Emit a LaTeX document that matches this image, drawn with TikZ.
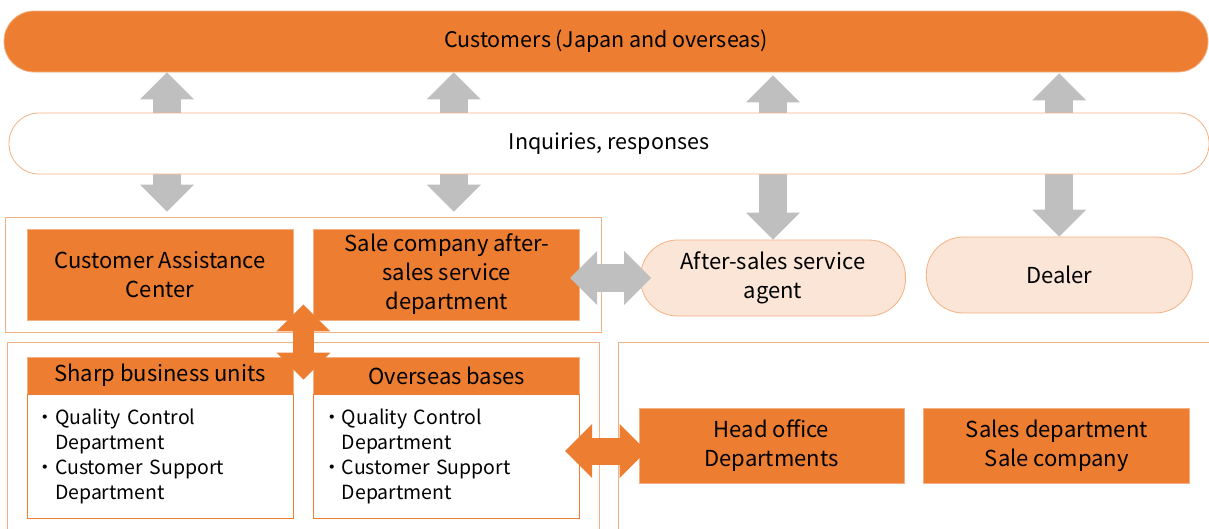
\documentclass[tikz,border=0pt]{standalone}
\usepackage{fontspec}
\setmainfont{Noto Sans CJK JP}
\usepackage{tikz}
\usetikzlibrary{arrows.meta, positioning, fit, backgrounds, calc}
\definecolor{sharporange}{HTML}{ED7D31}
\definecolor{lineorange}{HTML}{F4B183}
\definecolor{peach}{HTML}{FBE5D6}
\definecolor{arrowgray}{HTML}{BFBFBF}
\tikzset{
  pillorange/.style={
    rectangle, rounded corners=30pt,
    fill=sharporange, draw=lineorange, line width=0.8pt,
    minimum width=1204pt, minimum height=61pt, inner sep=0pt,
    font=\fontsize{21.5}{25}\selectfont
  },
  pillwhite/.style={
    rectangle, rounded corners=30pt,
    fill=white, draw=lineorange, line width=0.8pt,
    minimum width=1200pt, minimum height=61pt, inner sep=0pt,
    font=\fontsize{21.5}{25}\selectfont
  },
  pillpeach/.style={
    rectangle, rounded corners=37pt,
    fill=peach, draw=lineorange, line width=0.8pt,
    minimum width=265pt, minimum height=76pt, inner sep=0pt,
    align=center, font=\fontsize{22}{29}\selectfont
  },
  boxorange/.style={
    rectangle, fill=sharporange, draw=lineorange, line width=0.8pt,
    minimum width=266pt, minimum height=91pt, inner sep=0pt,
    align=center, font=\fontsize{22}{29}\selectfont
  },
  boxhead/.style={
    boxorange, minimum height=37pt
  },
  boxlist/.style={
    rectangle, fill=white, draw=sharporange, line width=0.8pt,
    minimum width=266pt, minimum height=124pt,
    inner xsep=8.5pt, inner ysep=0pt, text width=249pt,
    align=left, font=\fontsize{19.5}{25}\selectfont
  },
  boxgroup/.style={
    rectangle, draw=lineorange, line width=0.8pt
  },
  arrowgray/.style={
    draw=arrowgray, line width=28pt,
    {Triangle[length=27pt,width=54pt,line width=0pt]}-{Triangle[length=27pt,width=54pt,line width=0pt]}
  },
  arroworange/.style={
    draw=sharporange, line width=27pt,
    {Triangle[length=27pt,width=54pt,line width=0pt]}-{Triangle[length=27pt,width=54pt,line width=0pt]}
  }
}
\newcommand{\dotitem}{・}

\begin{document}
\begin{tikzpicture}[x=1pt, y=-1pt, node distance=20pt]

  \useasboundingbox (0,0) rectangle (1209,528);
  \clip (0,0) rectangle (1209,528);

  % --- Top row ---
  \node[pillorange] (cust) at (606,41.5) {Customers (Japan and overseas)};

  % --- Contact points ---
  \node[boxorange] (cac) at (160,274.5) {Customer Assistance\\Center};
  \node[boxorange, right=of cac] (scd) {Sale company after-\\sales service\\department};
  \node[pillpeach] (agent) at (773,278) {After-sales service\\agent};
  \node[pillpeach, right=of agent, yshift=3pt, minimum width=266pt] (dealer) {Dealer};

  % --- Business units ---
  \node[boxhead] (sbuhead) at (160,375.5) {Sharp business units};
  \node[boxlist, below=0pt of sbuhead] (sbubody) {\dotitem Quality Control\\\phantom{\dotitem}Department\\\dotitem Customer Support\\\phantom{\dotitem}Department};
  \node[boxhead, right=of sbuhead] (obhead) {Overseas bases};
  \node[boxlist, below=0pt of obhead] (obbody) {\dotitem Quality Control\\\phantom{\dotitem}Department\\\dotitem Customer Support\\\phantom{\dotitem}Department};

  \node[boxorange, minimum width=265pt, minimum height=75pt] (ho) at (771.5,445.5) {Head office\\Departments};
  \node[boxorange, minimum height=75pt, right=19pt of ho] (sales) {Sales department\\Sale company};

  % --- Groups ---
  \node[boxgroup, fit=(cac) (scd), inner xsep=21.5pt, inner ysep=11.5pt] (grpA) {};
  \node[boxgroup, fit=(sbuhead) (obbody), inner xsep=19pt, inner ysep=14pt] (grpB) {};
  \node[boxgroup, fit=(ho) (sales), inner xsep=21pt, inner ysep=65pt, xshift=1pt] (grpC) {};

  % --- Arrows to customers (behind the inquiries band) ---
  \begin{scope}[on background layer]
    \draw[arrowgray, shorten >=5pt] ([xshift=7pt]cac.north |- cust.south) -- ([xshift=7pt]cac.north |- grpA.north);
    \draw[arrowgray, shorten >=5pt] ([xshift=7pt]scd.north |- cust.south) -- ([xshift=7pt]scd.north |- grpA.north);
    \draw[arrowgray, shorten <=3pt] (agent.north |- cust.south) -- (agent.north);
    \draw[arrowgray, shorten <=1pt] (dealer.north |- cust.south) -- (dealer.north);
  \end{scope}

  \node[pillwhite] (inq) at (609,143.5) {Inquiries, responses};

  % --- Side arrows ---
  \draw[arrowgray, shorten <=-10pt, shorten >=-11pt] (scd.east |- agent.west) -- (agent.west);
  \coordinate (vtop) at ($(cac.south east)!0.5!(scd.south west)$);
  \coordinate (vbot) at ($(sbuhead.north east)!0.5!(obhead.north west)$);
  \draw[arroworange, line width=21pt, shorten <=-16pt, shorten >=-23pt] (vtop) -- (vbot);
  \draw[arroworange, shorten <=-15pt, shorten >=-8pt] ([yshift=-5.5pt]obbody.east |- ho.west) -- ([yshift=-5.5pt]ho.west);

\end{tikzpicture}
\end{document}
